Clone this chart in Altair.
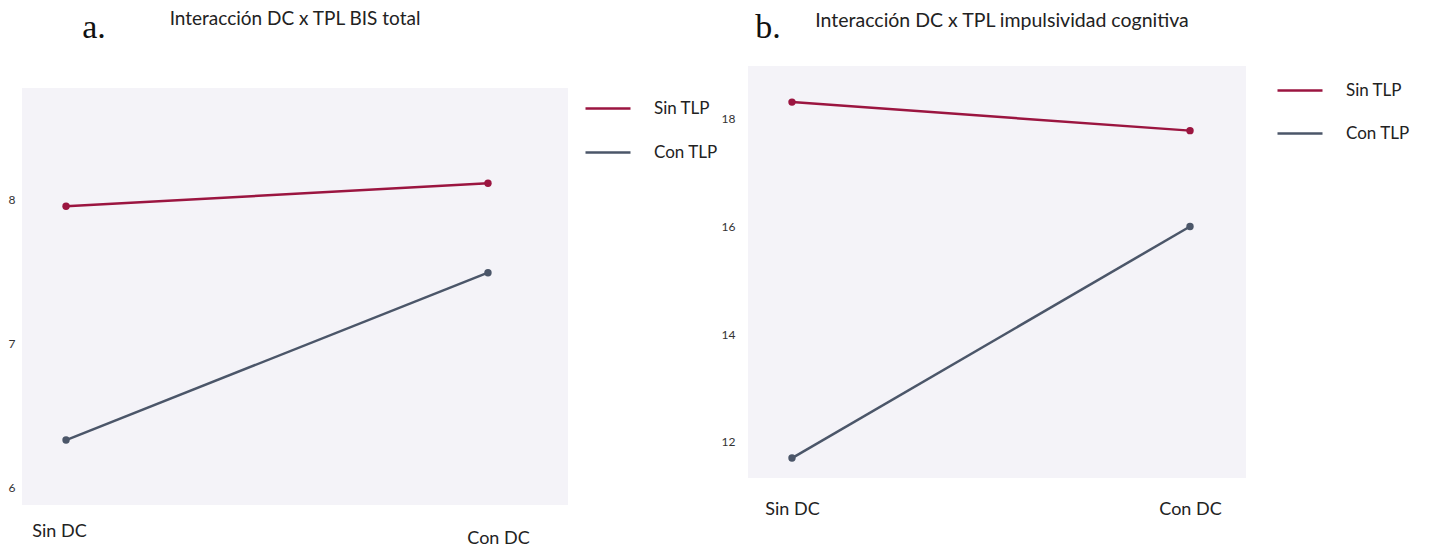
import altair as alt
import pandas as pd

# ---- data ----
grupos = ["Sin TLP", "Sin TLP", "Con TLP", "Con TLP"]
dc = ["Sin DC", "Con DC", "Sin DC", "Con DC"]
bis_total = [7.95, 8.11, 6.33, 7.49]
impulsividad_cognitiva = [18.31, 17.78, 11.70, 16.00]

dc_orden = ["Sin DC", "Con DC"]
grupo_orden = ["Sin TLP", "Con TLP"]
colores = ["#9b1540", "#4b5669"]
ticks_a = [6, 7, 8]
ticks_b = [12, 14, 16, 18]

FONT = "Lato"
BG = "#f4f3f8"


def panel(values, letter, title, title_size, title_dx, width, height, ydomain, yticks,
          align, padding, ylabpad, xlabpad, xlaboff, legx, legy, rowpad, title_offset,
          letter_x, letter_y):
    df = pd.DataFrame({"grupo": grupos, "dc": dc, "valor": values})
    lines = alt.Chart(df).mark_line(
        strokeWidth=2.5,
        point=alt.OverlayMarkDef(size=55, filled=True, opacity=1),
    ).encode(
        x=alt.X("dc:N", sort=dc_orden,
                scale=alt.Scale(align=align, padding=padding),
                axis=alt.Axis(title=None, domain=False, ticks=False, labelAngle=0,
                              labelFont=FONT, labelFontSize=18, labelColor="#222",
                              labelPadding=xlabpad, labelOffset=xlaboff)),
        y=alt.Y("valor:Q",
                scale=alt.Scale(domain=ydomain, nice=False, zero=False),
                axis=alt.Axis(title=None, domain=False, ticks=False, grid=False,
                              values=yticks, labelFont=FONT, labelFontSize=12,
                              labelColor="#333", labelPadding=ylabpad)),
        color=alt.Color("grupo:N", sort=grupo_orden,
                        scale=alt.Scale(domain=grupo_orden, range=colores),
                        legend=alt.Legend(title=None, orient="none", legendX=legx,
                                          legendY=legy, symbolType="stroke",
                                          symbolSize=2025, symbolStrokeWidth=2.5,
                                          labelFont=FONT, labelFontSize=17,
                                          labelColor="#222", labelOffset=22,
                                          rowPadding=rowpad)),
    )
    lab = alt.Chart(pd.DataFrame({"t": [letter]})).mark_text(
        font="Liberation Serif", fontSize=34, color="#111",
        align="center", baseline="middle",
    ).encode(x=alt.value(letter_x), y=alt.value(letter_y), text="t:N")
    return alt.layer(lines, lab).properties(
        width=width, height=height,
        view=alt.ViewBackground(fill=BG, stroke=None),
        title=alt.TitleParams(title, font=FONT, fontSize=title_size, fontWeight="normal",
                              color="#222", frame="group", offset=title_offset,
                              anchor="middle", dx=title_dx),
    )


def spacer():
    return alt.Chart(pd.DataFrame({"s": [0]})).mark_point(opacity=0, size=1).encode(
        x=alt.value(1), y=alt.value(1)
    ).properties(width=1, height=1, view=alt.ViewBackground(fill=None, stroke=None))


panel_a = panel(
    bis_total, "a.", "Interacción DC x TPL BIS total", 19, 0, 546, 417,
    [5.88, 8.77], ticks_a, 0.355, 0.147, 7,
    {"condition": {"test": "datum.value === 'Sin DC'", "value": 17}, "value": 24},
    {"condition": {"test": "datum.value === 'Sin DC'", "value": -7}, "value": 10},
    562, 76.5, 12, -18, 72, -60,
)
panel_b = panel(
    impulsividad_cognitiva, "b.", "Interacción DC x TPL impulsividad cognitiva", 19.5, 5,
    498, 412, [11.33, 18.98], ticks_b, 0.44, 0.1256, 13, 22, 0,
    528, 58.5, 11, -20, 20, -38,
)

chart = alt.hconcat(
    alt.vconcat(spacer(), panel_a, spacing=0),
    alt.vconcat(spacer(), panel_b, spacing=0),
    spacing=3,
).resolve_scale(
    color="independent", x="independent", y="independent"
).resolve_legend(color="independent").configure_view(
    stroke=None
).properties(padding={"left": 0, "top": 0, "right": 5, "bottom": 0})

chart.save("out.html", embed_options={"renderer": "svg", "actions": False})
